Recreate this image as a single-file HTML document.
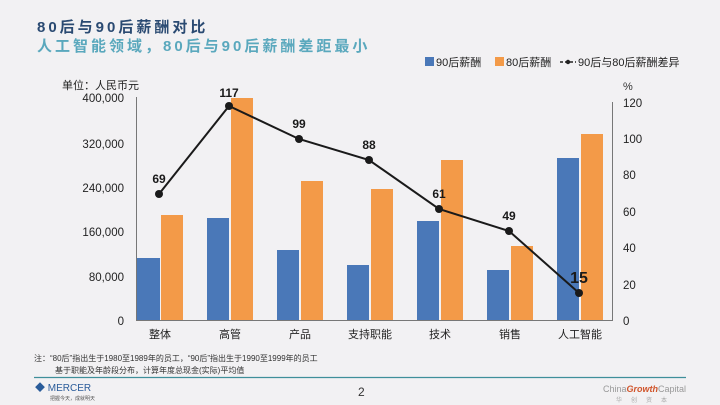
<!DOCTYPE html><html><head><meta charset="utf-8"><style>
body{margin:0;background:#f2f1f3;}
svg{display:block;font-family:"Liberation Sans","Noto Sans CJK SC",sans-serif;}
</style></head><body>
<svg width="720" height="405" viewBox="0 0 720 405">
<rect width="720" height="405" fill="#f2f1f3"/>
<text x="37" y="32" font-size="15" font-weight="bold" fill="#2a4a72" letter-spacing="3">80后与90后薪酬对比</text>
<text x="37" y="51" font-size="15" font-weight="bold" fill="#5aa8bd" letter-spacing="3">人工智能领域，80后与90后薪酬差距最小</text>
<rect x="425" y="57" width="9" height="9" fill="#4a78b8"/><text x="436" y="66" font-size="11" fill="#222">90后薪酬</text>
<rect x="495" y="57" width="9" height="9" fill="#f39a48"/><text x="506" y="66" font-size="11" fill="#222">80后薪酬</text>
<line x1="560" y1="62" x2="576" y2="62" stroke="#222" stroke-width="1.5" stroke-dasharray="3,2"/><circle cx="568" cy="62" r="2.2" fill="#222"/>
<text x="578" y="66" font-size="11" fill="#222">90后与80后薪酬差异</text>
<text x="62" y="89" font-size="11" fill="#222">单位：人民币元</text>
<text x="623" y="90" font-size="11" fill="#333">%</text>
<g stroke="#777" stroke-width="1">
<line x1="136.5" y1="97" x2="136.5" y2="320"/>
<line x1="136" y1="320.5" x2="613" y2="320.5"/>
<line x1="612.5" y1="102" x2="612.5" y2="320"/>
</g>
<g font-size="11.5" fill="#222" text-anchor="end">
<text x="124" y="102">400,000</text><text x="124" y="148">320,000</text><text x="124" y="192">240,000</text>
<text x="124" y="236">160,000</text><text x="124" y="281">80,000</text><text x="124" y="325">0</text>
</g>
<g font-size="11.5" fill="#222">
<text x="623" y="107">120</text><text x="623" y="143">100</text><text x="623" y="179">80</text>
<text x="623" y="216">60</text><text x="623" y="252">40</text><text x="623" y="289">20</text><text x="623" y="325">0</text>
</g>
<g fill="#4a78b8">
<rect x="137" y="258" width="23" height="62"/>
<rect x="207" y="218" width="22" height="102"/>
<rect x="277" y="250" width="22" height="70"/>
<rect x="347" y="265" width="22" height="55"/>
<rect x="417" y="221" width="22" height="99"/>
<rect x="487" y="270" width="22" height="50"/>
<rect x="557" y="158" width="22" height="162"/>
</g>
<g fill="#f39a48">
<rect x="161" y="215" width="22" height="105"/>
<rect x="231" y="98" width="22" height="222"/>
<rect x="301" y="181" width="22" height="139"/>
<rect x="371" y="189" width="22" height="131"/>
<rect x="441" y="160" width="22" height="160"/>
<rect x="511" y="246" width="22" height="74"/>
<rect x="581" y="134" width="22" height="186"/>
</g>
<polyline points="159,194 229,106 299,139 369,160 439,209 509,231 579,293" fill="none" stroke="#1a1a1a" stroke-width="2"/>
<g fill="#1a1a1a">
<circle cx="159" cy="194" r="4"/><circle cx="229" cy="106" r="4"/><circle cx="299" cy="139" r="4"/>
<circle cx="369" cy="160" r="4"/><circle cx="439" cy="209" r="4"/><circle cx="509" cy="231" r="4"/><circle cx="579" cy="293" r="4"/>
</g>
<g font-size="12" font-weight="bold" fill="#1a1a1a" text-anchor="middle">
<text x="159" y="183">69</text><text x="229" y="97">117</text><text x="299" y="128">99</text>
<text x="369" y="149">88</text><text x="439" y="198">61</text><text x="509" y="220">49</text>
<text x="579" y="283" font-size="16">15</text>
</g>
<g font-size="11" fill="#222" text-anchor="middle">
<text x="160" y="338">整体</text><text x="230" y="338">高管</text><text x="300" y="338">产品</text>
<text x="370" y="338">支持职能</text><text x="440" y="338">技术</text><text x="510" y="338">销售</text><text x="580" y="338">人工智能</text>
</g>
<text x="34" y="361" font-size="8" fill="#333">注：“80后”指出生于1980至1989年的员工，“90后”指出生于1990至1999年的员工</text>
<text x="55" y="373" font-size="8" fill="#333">基于职能及年龄段分布，计算年度总现金(实际)平均值</text>
<line x1="34" y1="377.5" x2="686" y2="377.5" stroke="#3f8f9a" stroke-width="1.2"/>
<text x="35" y="391" font-size="10" fill="#2a5c9a">◆ MERCER</text>
<text x="50" y="400" font-size="5" fill="#555">把握今天，成就明天</text>
<text x="358" y="396" font-size="12" fill="#333">2</text>
<text x="603" y="392" font-size="9" fill="#999">China<tspan fill="#d0542a" font-weight="bold" font-style="italic">Growth</tspan>Capital</text>
<text x="616" y="402" font-size="6" fill="#aaa" letter-spacing="9">华创资本</text>
</svg>
</body></html>
